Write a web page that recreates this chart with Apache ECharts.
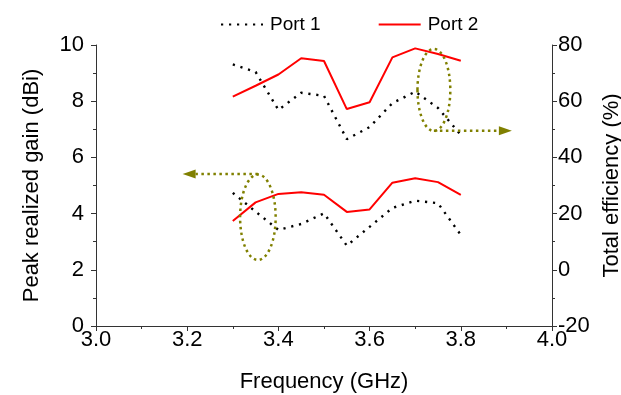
<!DOCTYPE html>
<html>
<head>
<meta charset="utf-8">
<script src="https://cdn.jsdelivr.net/npm/echarts@6/dist/echarts.min.js"></script>
<style>html,body{margin:0;padding:0;background:#fff}#c{width:621px;height:395px}</style>
</head>
<body>
<div id="c"></div>
<script>
const freq = [3.3, 3.35, 3.4, 3.45, 3.5, 3.55, 3.6, 3.65, 3.7, 3.75, 3.8];
const gainPort1 = [4.74, 4.07, 3.42, 3.63, 4.01, 2.86, 3.53, 4.20, 4.46, 4.37, 3.24];
const gainPort2 = [3.74, 4.40, 4.70, 4.76, 4.67, 4.06, 4.15, 5.10, 5.26, 5.12, 4.67];
const effPort1 = [73.1, 70.4, 56.9, 63.0, 61.9, 46.5, 50.8, 59.3, 63.4, 57.6, 48.0];
const effPort2 = [61.6, 65.5, 69.5, 75.3, 74.3, 57.2, 59.6, 75.6, 78.8, 76.8, 74.4];
const xTicks = [3.0, 3.2, 3.4, 3.6, 3.8, 4.0];
const gainTicks = [0, 2, 4, 6, 8, 10];
const effTicks = [-20, 0, 20, 40, 60, 80];
// annotation (data coords): ellipse centre/radii and arrow end
const annGain = {cx: 3.355, cy: 3.87, rx: 0.039, ry: 1.52, arrowY: 5.41, arrowTo: 3.19};
const annEff = {cx: 3.741, cy: 64.0, rx: 0.036, ry: 14.6, arrowY: 49.5, arrowTo: 3.912};

const pairs = (xs, ys) => xs.map((x, i) => [x, ys[i]]);
const font = 'Liberation Sans, Arial, sans-serif';
const axisCol = '#333';

const chart = echarts.init(document.getElementById('c'));
const dotted = {color: '#000', width: 2.4, type: [2.2, 5.8], cap: 'butt'};
const solid = {color: '#ff0000', width: 2};
const baseAxis = {
  axisLine: {show: true, lineStyle: {color: axisCol, width: 1}},
  axisTick: {show: true, inside: false, length: 5, lineStyle: {color: axisCol}},
  minorTick: {show: true, splitNumber: 2, length: 3, lineStyle: {color: axisCol}},
  splitLine: {show: false},
  axisLabel: {color: '#000', fontSize: 22, fontFamily: font},
  nameTextStyle: {color: '#000', fontSize: 22, fontFamily: font}
};
chart.setOption({
  animation: false,
  backgroundColor: '#fff',
  grid: {left: 96, right: 69, top: 45, bottom: 69, containLabel: false, outerBoundsMode: 'none'},
  legend: {
    data: ['Port 1', 'Port 2'], left: 215, top: 10, itemWidth: 42, itemHeight: 14, itemGap: 57,
    itemStyle: {opacity: 0},
    textStyle: {color: '#000', fontSize: 19, fontFamily: font, padding: [0, 0, 0, 2]}
  },
  xAxis: Object.assign({}, baseAxis, {
    type: 'value', min: xTicks[0], max: xTicks[xTicks.length - 1], interval: 0.2,
    name: 'Frequency (GHz)', nameLocation: 'middle', nameGap: 45,
    axisLabel: Object.assign({}, baseAxis.axisLabel, {margin: 3, formatter: v => v.toFixed(1)})
  }),
  yAxis: [
    Object.assign({}, baseAxis, {
      type: 'value', min: gainTicks[0], max: gainTicks[gainTicks.length - 1], interval: 2, position: 'left',
      name: 'Peak realized gain (dBi)', nameLocation: 'middle', nameGap: 53, nameRotate: 90,
      axisLabel: Object.assign({}, baseAxis.axisLabel, {margin: 12})
    }),
    Object.assign({}, baseAxis, {
      type: 'value', min: effTicks[0], max: effTicks[effTicks.length - 1], interval: 20, position: 'right',
      name: 'Total efficiency (%)', nameLocation: 'middle', nameGap: 39, nameRotate: 90,
      axisLabel: Object.assign({}, baseAxis.axisLabel, {margin: 6})
    })
  ],
  series: [
    {name: 'Port 1', type: 'line', yAxisIndex: 0, data: pairs(freq, gainPort1), symbol: 'none', lineStyle: dotted, itemStyle: {color: '#000'}},
    {name: 'Port 2', type: 'line', yAxisIndex: 0, data: pairs(freq, gainPort2), symbol: 'none', lineStyle: solid, itemStyle: {color: '#ff0000'}},
    {name: 'Port 1', type: 'line', yAxisIndex: 1, data: pairs(freq, effPort1), symbol: 'none', lineStyle: dotted, itemStyle: {color: '#000'}},
    {name: 'Port 2', type: 'line', yAxisIndex: 1, data: pairs(freq, effPort2), symbol: 'none', lineStyle: solid, itemStyle: {color: '#ff0000'}}
  ]
});

function annotation(a, yIdx, dir) {
  const c = chart.convertToPixel({xAxisIndex: 0, yAxisIndex: yIdx}, [a.cx, a.cy]);
  const e = chart.convertToPixel({xAxisIndex: 0, yAxisIndex: yIdx}, [a.cx + a.rx, a.cy + a.ry]);
  const s = chart.convertToPixel({xAxisIndex: 0, yAxisIndex: yIdx}, [a.cx, a.arrowY]);
  const t = chart.convertToPixel({xAxisIndex: 0, yAxisIndex: yIdx}, [a.arrowTo, a.arrowY]);
  const rx = Math.abs(e[0] - c[0]), ry = Math.abs(e[1] - c[1]);
  const olive = '#808000';
  const st = {stroke: olive, lineWidth: 2.5, lineDash: [2.5, 3.5], fill: null};
  const headLen = 13;
  const tip = t[0];
  const base = tip - dir * headLen;
  return [
    {type: 'ellipse', shape: {cx: c[0], cy: c[1], rx: rx, ry: ry}, style: st, z: 10},
    {type: 'line', shape: {x1: s[0], y1: s[1], x2: base, y2: t[1]}, style: st, z: 10},
    {type: 'polygon', shape: {points: [[tip, t[1]], [base, t[1] - 4.5], [base, t[1] + 4.5]]}, style: {fill: olive}, z: 10}
  ];
}
chart.setOption({graphic: annotation(annGain, 0, -1).concat(annotation(annEff, 1, 1))});
</script>
</body>
</html>
